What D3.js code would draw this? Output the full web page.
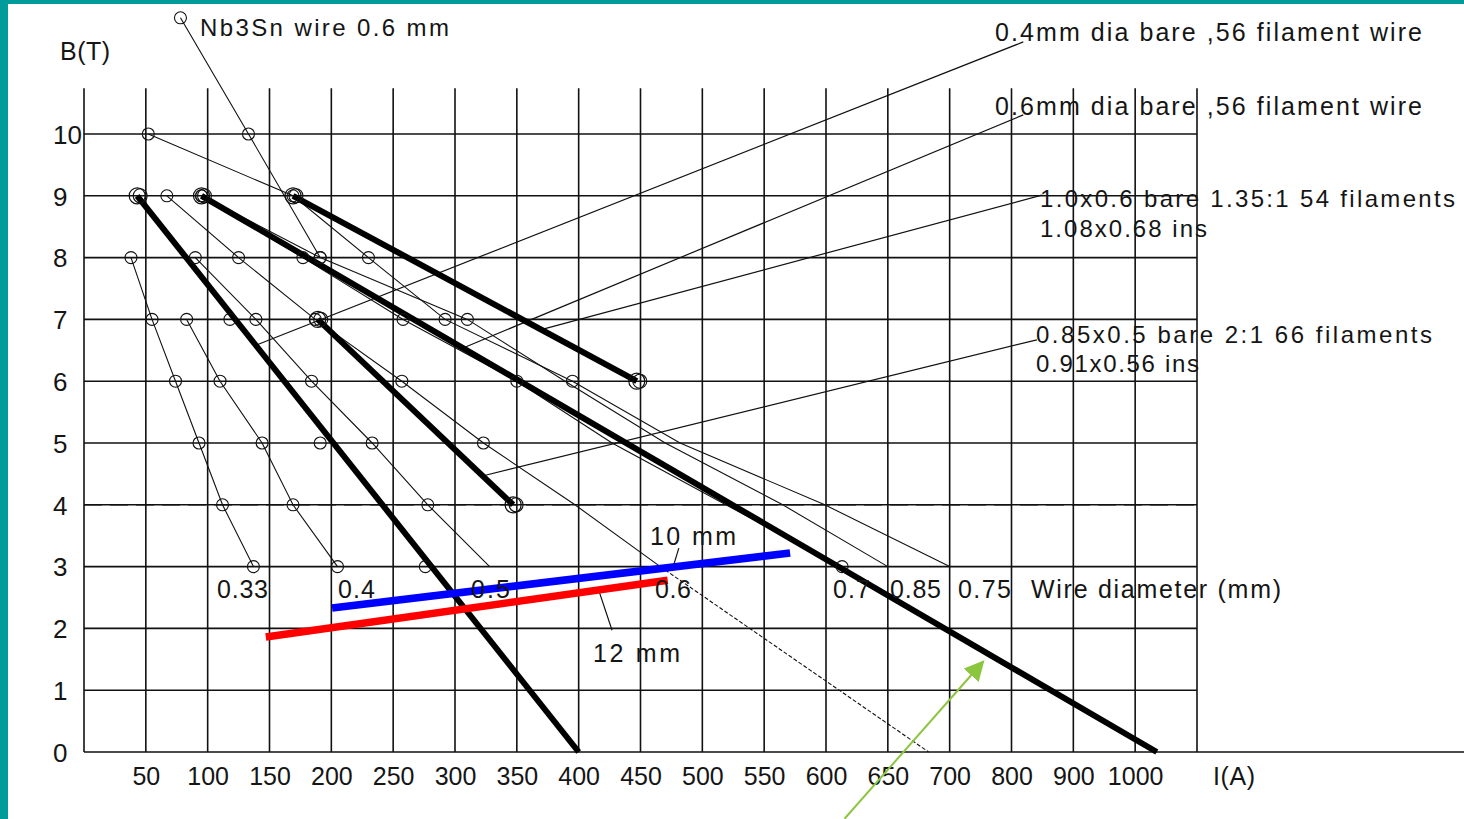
<!DOCTYPE html>
<html>
<head>
<meta charset="utf-8">
<script src="https://cdn.jsdelivr.net/npm/d3@7"></script>
<style>
  html, body { margin: 0; padding: 0; background: #009b9b; }
  svg { display: block; }
  text { font-family: "Liberation Sans", Arial, sans-serif; fill: #151515; }
</style>
</head>
<body>
<div id="chart"></div>
<script>
// tick values (current I in A, field B in T)
var iTicks = [50, 100, 150, 200, 250, 300, 350, 400, 450, 500, 550, 600, 650, 700, 800, 900, 1000];
var gridI = [0, 50, 100, 150, 200, 250, 300, 350, 400, 450, 500, 550, 600, 650, 700, 800, 900, 1000, 1100];
var bTicks = [0, 1, 2, 3, 4, 5, 6, 7, 8, 9, 10];

// thick load lines [I, B]
var thickA = [[43, 9], [400, 0]];
var thickB = [[95, 9], [1035, 0]];
var thickC = [[169, 9], [447, 6]];
var thickD = [[189, 7], [347, 4]];

// critical current curves per wire diameter [I, B]
var wire033 = [[38, 8], [55, 7], [74, 6], [93, 5], [112, 4], [137, 3]];
var wire04 = [[83, 7], [110, 6], [144, 5], [169, 4], [205, 3]];
var wire05 = [[90, 8], [139, 7], [184, 6], [233, 5], [278, 4], [328, 3]];
var wire06 = [[67, 9], [125, 8], [187, 7], [257, 6], [323, 5], [397, 4], [466, 3]];
var wire06Ext = [[466, 3], [683, 0]];
var wire07 = [[95, 9], [177, 8], [258, 7], [350, 6], [427, 5], [519, 4], [613, 3]];
var wire085 = [[95, 9], [191, 8], [310, 7], [389, 6], [470, 5], [565, 4], [650, 3]];
var wire075 = [[52, 10], [169, 9], [230, 8], [292, 7], [395, 6], [482, 5], [599, 4], [700, 3]];
var nb3sn = [[78, 11.88], [133, 10], [191, 8]];

// extra measured points sitting on thick line A
var thickAMarks = [[118, 7], [191, 5], [276, 3]];

// magnet lines (10 mm and 12 mm bore)
var bore10 = [[200.6, 2.33], [571, 3.22]];
var bore12 = [[147, 1.86], [472, 2.78]];

// leader lines for the notes [from, to]
var leaders = [
  [[819, 11.49], [140, 6.59]],
  [[819, 10.31], [308, 6.55]],
  [[849, 9.01], [369, 6.83]],
  [[841, 6.67], [323, 4.47]],
  [[481, 3.30], [475.5, 2.94]],
  [[417, 2.57], [427, 1.97]]
];
var arrowLine = [[615, -1.08], [754, 1.46]];

var W = 1464, H = 819;
var svg = d3.select("#chart").append("svg").attr("width", W).attr("height", H);

svg.append("rect").attr("x", 8).attr("y", 4).attr("width", W - 8).attr("height", H - 4).attr("fill", "#ffffff");

var step = (1197 - 84) / 18;
var x = d3.scaleLinear().domain([0, 700, 1100]).range([84, 84 + 14 * step, 84 + 18 * step]);
var y = d3.scaleLinear().domain([0, 10]).range([752, 134]);

var line = d3.line().x(function (d) { return x(d[0]); }).y(function (d) { return y(d[1]); });

// grid
var grid = svg.append("g").attr("stroke", "#111").attr("stroke-width", 1.6);
grid.selectAll("line.v").data(gridI).enter().append("line")
  .attr("x1", function (d) { return x(d); }).attr("x2", function (d) { return x(d); })
  .attr("y1", y(10.74)).attr("y2", y(0));
grid.selectAll("line.h").data(bTicks).enter().append("line")
  .attr("x1", x(0))
  .attr("x2", function (d) { return d === 0 ? W : x(1100); })
  .attr("y1", function (d) { return y(d); }).attr("y2", function (d) { return y(d); });

// 4 T dashed line
svg.append("line")
  .attr("x1", x(0)).attr("x2", x(1100)).attr("y1", y(4)).attr("y2", y(4))
  .attr("stroke", "#111").attr("stroke-width", 1.6).attr("stroke-dasharray", "18,8");

// axes labels
var xAxis = svg.append("g").attr("transform", "translate(0," + y(0) + ")")
  .call(d3.axisBottom(x).tickValues(iTicks).tickSize(0).tickPadding(15).tickFormat(d3.format("d")));
xAxis.select(".domain").remove();
xAxis.selectAll("text").style("font-size", "25px").style("font-family", "Liberation Sans, Arial, sans-serif").attr("fill", "#151515");

var yAxis = svg.append("g").attr("transform", "translate(" + x(0) + ",0)")
  .call(d3.axisLeft(y).tickValues(bTicks).tickSize(0).tickFormat(d3.format("d")));
yAxis.select(".domain").remove();
yAxis.selectAll("text").style("font-size", "26px").style("font-family", "Liberation Sans, Arial, sans-serif")
  .attr("fill", "#151515").attr("text-anchor", "start").attr("x", 53 - x(0)).attr("dy", "0.36em");

// thin curves
var thin = [wire033, wire04, wire05, wire06, wire07, wire085, wire075, nb3sn];
svg.append("g").selectAll("path").data(thin).enter().append("path")
  .attr("d", line).attr("fill", "none").attr("stroke", "#111").attr("stroke-width", 1.1);
svg.append("path").datum(wire06Ext).attr("d", line).attr("fill", "none")
  .attr("stroke", "#111").attr("stroke-width", 1.1).attr("stroke-dasharray", "4,2");

// leader lines
svg.append("g").selectAll("path").data(leaders).enter().append("path")
  .attr("d", line).attr("fill", "none").attr("stroke", "#111").attr("stroke-width", 1.2);

// thick lines
svg.append("g").selectAll("path").data([thickA, thickB, thickC, thickD]).enter().append("path")
  .attr("d", line).attr("fill", "none").attr("stroke", "#000").attr("stroke-width", 6);

// bore lines
svg.append("path").datum(bore10).attr("d", line).attr("stroke", "#0000ff").attr("stroke-width", 7.5).attr("fill", "none");
svg.append("path").datum(bore12).attr("d", line).attr("stroke", "#ff0000").attr("stroke-width", 7.5).attr("fill", "none");

// circle markers: which points of each curve carry a circle
var markSets = [
  { pts: wire033, minB: 0 }, { pts: wire04, minB: 0 }, { pts: wire05, minB: 4 },
  { pts: wire06, minB: 5 }, { pts: wire07, minB: 6 }, { pts: wire085, minB: 7 },
  { pts: wire075, minB: 6 }, { pts: nb3sn, minB: 0 }, { pts: thickAMarks, minB: 0 }
];
var marks = [];
markSets.forEach(function (s) {
  s.pts.forEach(function (p) { if (p[1] >= s.minB) marks.push(p); });
});
marks.push(wire07[wire07.length - 1]);
svg.append("g").selectAll("circle").data(marks).enter().append("circle")
  .attr("cx", function (d) { return x(d[0]); }).attr("cy", function (d) { return y(d[1]); })
  .attr("r", 6).attr("fill", "none").attr("stroke", "#111").attr("stroke-width", 1.1);

// double circles at thick line ends
var ends = [thickA[0], thickB[0], thickC[0], thickC[1], thickD[0], thickD[1]];
var endG = svg.append("g");
endG.selectAll("circle.a").data(ends).enter().append("circle")
  .attr("cx", function (d) { return x(d[0]); }).attr("cy", function (d) { return y(d[1]); })
  .attr("r", 8).attr("fill", "none").attr("stroke", "#111").attr("stroke-width", 1.2);
endG.selectAll("circle.b").data(ends).enter().append("circle")
  .attr("cx", function (d) { return x(d[0]) + 3; }).attr("cy", function (d) { return y(d[1]); })
  .attr("r", 7).attr("fill", "none").attr("stroke", "#111").attr("stroke-width", 1.1);

// green arrow
svg.append("defs").append("marker").attr("id", "ah")
  .attr("viewBox", "0 0 10 10").attr("refX", 9).attr("refY", 5)
  .attr("markerWidth", 20).attr("markerHeight", 20).attr("markerUnits", "userSpaceOnUse")
  .attr("orient", "auto")
  .append("path").attr("d", "M0,0L10,5L0,10z").attr("fill", "#8cc63e");
svg.append("path").datum(arrowLine).attr("d", line).attr("stroke", "#8cc63e")
  .attr("stroke-width", 2).attr("fill", "none").attr("marker-end", "url(#ah)");

// texts
function label(t, px, py, len, size) {
  var el = svg.append("text").attr("x", px).attr("y", py).style("font-size", (size || 25) + "px").text(t);
  if (len) el.attr("textLength", len).attr("lengthAdjust", "spacing");
  return el;
}
label("B(T)", 60, 60, 50, 25);
label("Nb3Sn wire 0.6 mm", 200, 36, 249, 24);
label("0.4mm dia bare ,56 filament wire", 995, 41, 427);
label("0.6mm dia bare ,56 filament wire", 995, 115, 427);
label("1.0x0.6 bare 1.35:1 54 filaments", 1040, 207, 415, 24);
label("1.08x0.68 ins", 1040, 237, 167, 24);
label("0.85x0.5 bare 2:1 66 filaments", 1036, 343, 396, 24);
label("0.91x0.56 ins", 1036, 372, 163, 24);
label("0.33", 217, 598, 51);
label("0.4", 338, 598, 37);
label("0.5", 471, 598, 39);
label("0.6", 655, 598, 36);
label("0.7", 833, 598, 37);
label("0.85", 890, 598, 51);
label("0.75", 958, 598, 53);
label("Wire diameter (mm)", 1031, 598, 250);
label("10 mm", 650, 545, 86);
label("12 mm", 593, 662, 87);
label("I(A)", 1213, 785, 42);
</script>
</body>
</html>
